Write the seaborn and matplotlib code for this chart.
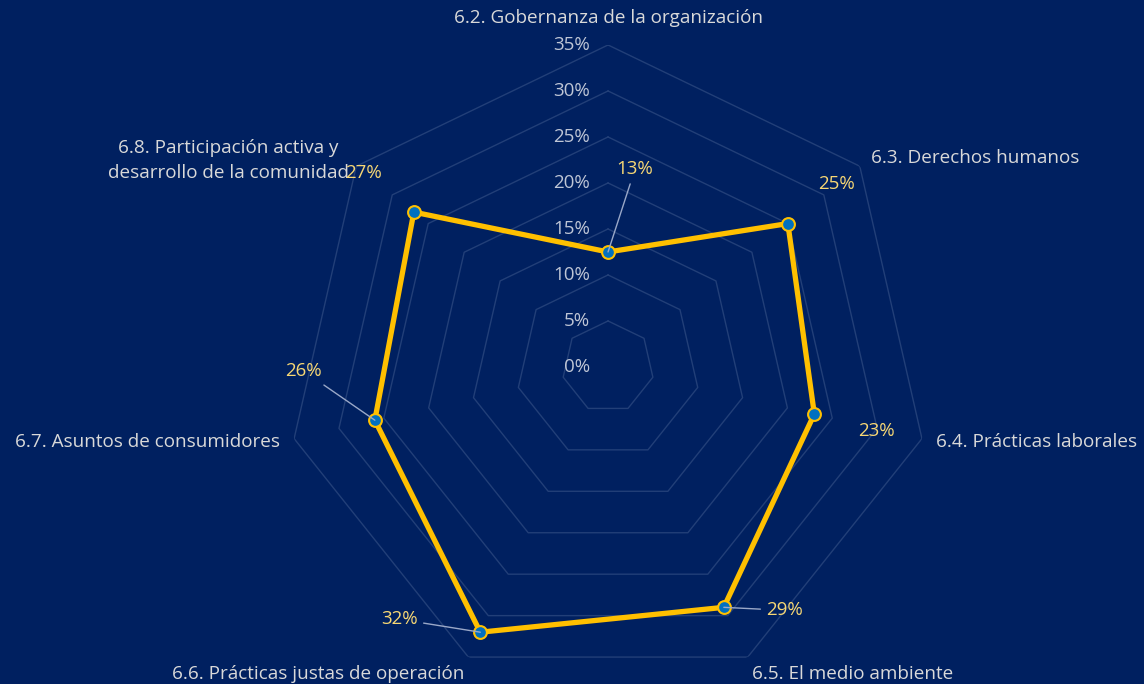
import numpy as np
import pandas as pd
import matplotlib.pyplot as plt
import seaborn as sns

# datos del gráfico radar (ISO 26000, materias fundamentales)
categories = ['6.2. Gobernanza de la organización',
              '6.3. Derechos humanos',
              '6.4. Prácticas laborales',
              '6.5. El medio ambiente',
              '6.6. Prácticas justas de operación',
              '6.7. Asuntos de consumidores',
              '6.8. Participación activa y\ndesarrollo de la comunidad']
values = [12.5, 25, 23, 29, 32, 26, 27]
value_labels = ['13%', '25%', '23%', '29%', '32%', '26%', '27%']
ring_levels = [0, 5, 10, 15, 20, 25, 30, 35]
ring_labels = ['0%', '5%', '10%', '15%', '20%', '25%', '30%', '35%']

bg = '#002060'
sns.set_style('white')
plt.rcParams['font.family'] = ['Open Sans', 'DejaVu Sans']

n = len(categories)
angles = np.arange(n) * 2 * np.pi / n
closed_theta = np.append(angles, 2 * np.pi)

df = pd.DataFrame({'theta': closed_theta,
                   'r': values + [values[0]]})

fig = plt.figure(figsize=(11.44, 6.84), dpi=100, facecolor=bg)
ax = fig.add_axes([0.25, -0.00725, 0.563, 0.9415], projection='polar')
ax.set_facecolor(bg)
ax.set_theta_zero_location('N')
ax.set_theta_direction(-1)
ax.set_ylim(0, 35)
ax.grid(False)
ax.spines['polar'].set_visible(False)
ax.set_xticks([])
ax.set_yticks([])

# anillos heptagonales
for lv in ring_levels[1:]:
    ax.plot(closed_theta, [lv] * (n + 1), color='#223F78', lw=1, zorder=1)

for lv, lab in zip(ring_levels, ring_labels):
    ax.annotate(lab, xy=(0, lv), xytext=(-18, 0), textcoords='offset pixels',
                ha='right', va='center', color='#BFC6D6', fontsize=13.5,
                zorder=2)

sns.lineplot(data=df, x='theta', y='r', sort=False, estimator=None, ax=ax,
             color='#FFC000', lw=3.8, zorder=3)
sns.scatterplot(x=angles, y=values, ax=ax, s=85, color='#0070C0',
                edgecolor='#FFC000', linewidth=1.5, zorder=4)
ax.set_xlabel('')
ax.set_ylabel('')

# etiquetas de categoría
cat_ha = ['center', 'left', 'left', 'left', 'right', 'right', 'right']
cat_va = ['center', 'center', 'center', 'top', 'top', 'center', 'center']
cat_r = [37.9, 36.5, 36.6, 36.0, 36.0, 36.6, 36.0]
for a, lab, ha, va, r in zip(angles, categories, cat_ha, cat_va, cat_r):
    ax.text(a, r, lab, ha=ha, va=va, color='#D9D9D9', fontsize=13.6,
            multialignment='center', linespacing=1.45, clip_on=False)

# etiquetas de datos
offsets = [(27, 83), (49, 40), (62, -17), (61, -3), (-81, 13), (-71, 49), (-50, 39)]
leaders = [True, False, False, True, True, True, False]
for a, v, lab, off, lead in zip(angles, values, value_labels, offsets, leaders):
    props = dict(arrowstyle='-', color='#9AA8C8', lw=1, shrinkA=2, shrinkB=0) if lead else None
    ax.annotate(lab, xy=(a, v), xytext=off, textcoords='offset pixels',
                ha='center', va='center', color='#F7D774', fontsize=13.5,
                arrowprops=props, zorder=5)

fig.savefig('out.png', dpi=100, facecolor=bg)
